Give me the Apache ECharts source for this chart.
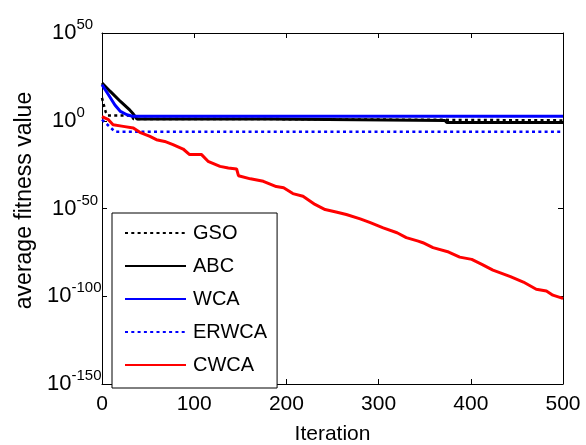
<!DOCTYPE html>
<html>
<head>
<meta charset="utf-8">
<script src="https://cdn.jsdelivr.net/npm/echarts@6/dist/echarts.min.js"></script>
<style>
html,body{margin:0;padding:0;background:#fff;}
#c{width:586px;height:445px;}
</style>
</head>
<body>
<div id="c"></div>
<script>
// Data (y values given as base-10 exponents, plotted on a log-decade axis)
const seriesNames = ['GSO', 'ABC', 'WCA', 'ERWCA', 'CWCA'];
const xTicks = [0, 100, 200, 300, 400, 500];
const yTickExponents = [-150, -100, -50, 0, 50];

const gsoIter = [0, 2, 4, 6, 32, 34, 161, 163, 500];
const gsoExp  = [13, 9, 5, 3, 3, 1.0, 1.0, 0.2, 0.2];

const abcIter = [0, 9, 20, 30, 34, 38, 181, 183, 372, 374, 500];
const abcExp  = [21.5, 16.7, 11, 6.2, 3.8, 1.0, 1.0, 0.2, 0.2, -1.0, -1.0];

const wcaIter = [0, 7, 14, 20, 27, 33, 500];
const wcaExp  = [20.5, 14.8, 9, 5.3, 3.4, 2.6, 2.6];

const erwcaIter = [0, 6, 14, 500];
const erwcaExp  = [0.6, -2.3, -6.2, -6.2];

const cwcaIter = [0, 7, 12, 23, 34, 41, 52, 59, 68, 77, 88, 95, 108, 115, 128, 137, 146, 148, 161, 175, 189, 197, 207, 218, 231, 242, 255, 265, 280, 291, 305, 320, 330, 343, 348, 359, 376, 388, 401, 412, 424, 443, 457, 471, 482, 489, 499, 500];
const cwcaExp  = [2.4, 0.6, -2.3, -3.2, -4.1, -6.6, -8.9, -10.8, -11.8, -13.6, -16.1, -19.3, -19.3, -23.1, -26, -26.9, -27.5, -31.3, -33.1, -34.5, -37.5, -38.2, -41.5, -43, -47.7, -50.6, -52.1, -53.4, -55.9, -58.1, -61, -63.8, -66.6, -68.6, -69.5, -72.3, -74.8, -77.7, -79, -81.8, -85.1, -88.8, -91.9, -96, -97, -99.4, -101.1, -101.3];

function pts(it, ex) { return it.map((x, i) => [x, ex[i]]); }

const FONT = "'Liberation Sans', Arial, sans-serif";
const chart = echarts.init(document.getElementById('c'), null, {renderer: 'canvas'});

// base "10" of each y tick label
function yBase(v) {
  const e = Math.round(v);
  return (e <= -100) ? '{w|10}' : '{b|10}';
}
// superscript exponent of each y tick label
function yExp(v) {
  const e = Math.round(v);
  return (e <= -100) ? '{w|' + e + '}' : '{b|' + e + '}';
}

const axisLineStyle = {show: true, onZero: false, lineStyle: {color: '#000', width: 1}};
const tick = {show: true, inside: true, length: 5, lineStyle: {color: '#000'}};
const yMin = yTickExponents[0], yMax = yTickExponents[yTickExponents.length - 1];

chart.setOption({
  animation: false,
  backgroundColor: '#fff',
  grid: {left: 102, right: 23, top: 33, bottom: 61, containLabel: false, outerBoundsMode: 'none'},
  legend: {
    orient: 'vertical',
    left: 112, top: 213,
    data: seriesNames,
    itemWidth: 61, itemHeight: 14, itemGap: 13,
    padding: [10, 10, 13, 12],
    borderColor: '#000', borderWidth: 1,
    backgroundColor: '#fff',
    itemStyle: {opacity: 0},
    textStyle: {fontFamily: FONT, fontSize: 20, color: '#000', lineHeight: 20, padding: [0, 0, 0, 2]},
    z: 10
  },
  xAxis: [{
    type: 'value', min: xTicks[0], max: xTicks[xTicks.length - 1], interval: 100,
    name: 'Iteration', nameLocation: 'middle', nameGap: 40,
    nameTextStyle: {fontFamily: FONT, fontSize: 21, color: '#000'},
    axisLine: axisLineStyle, axisTick: tick,
    axisLabel: {fontFamily: FONT, fontSize: 21, color: '#000', margin: 10},
    splitLine: {show: false}
  }, {
    type: 'value', min: xTicks[0], max: xTicks[xTicks.length - 1], interval: 100,
    position: 'top',
    axisLine: axisLineStyle, axisTick: tick,
    axisLabel: {show: false},
    splitLine: {show: false}
  }],
  yAxis: [{
    type: 'value', min: yMin, max: yMax, interval: 50,
    name: 'average fitness value', nameLocation: 'middle', nameGap: 52,
    nameTextStyle: {fontFamily: FONT, fontSize: 23, color: '#000', padding: [0, 0, 0, 16]},
    axisLine: axisLineStyle, axisTick: tick,
    axisLabel: {
      formatter: yBase, margin: 55, align: 'left',
      rich: {
        b: {fontFamily: FONT, fontSize: 22, color: '#000', padding: [0, 0, 0, 5]},
        w: {fontFamily: FONT, fontSize: 22, color: '#000', padding: [0, 0, 0, 0]}
      }
    },
    splitLine: {show: false}
  }, {
    type: 'value', min: yMin, max: yMax, interval: 50,
    position: 'left', offset: 0,
    axisLine: {show: false}, axisTick: {show: false},
    axisLabel: {
      formatter: yExp, margin: 30.5, align: 'left', verticalAlign: 'bottom', lineHeight: 16,
      rich: {
        b: {fontFamily: FONT, fontSize: 15, color: '#000', lineHeight: 16, padding: [0, 0, 0, 5]},
        w: {fontFamily: FONT, fontSize: 15, color: '#000', lineHeight: 16, padding: [0, 0, 0, 0]}
      }
    },
    splitLine: {show: false}
  }, {
    type: 'value', min: yMin, max: yMax, interval: 50,
    position: 'right',
    axisLine: axisLineStyle, axisTick: tick,
    axisLabel: {show: false},
    splitLine: {show: false}
  }],
  series: [
    {name: 'GSO', type: 'line', symbol: 'none', showSymbol: false, data: pts(gsoIter, gsoExp),
     lineStyle: {color: '#000', width: 2.5, type: [3, 3.3]}, itemStyle: {color: '#000'}},
    {name: 'ABC', type: 'line', symbol: 'none', showSymbol: false, data: pts(abcIter, abcExp),
     lineStyle: {color: '#000', width: 3}, itemStyle: {color: '#000'}},
    {name: 'WCA', type: 'line', symbol: 'none', showSymbol: false, data: pts(wcaIter, wcaExp),
     lineStyle: {color: '#0000ff', width: 3}, itemStyle: {color: '#0000ff'}},
    {name: 'ERWCA', type: 'line', symbol: 'none', showSymbol: false, data: pts(erwcaIter, erwcaExp),
     lineStyle: {color: '#0000ff', width: 2.5, type: [3, 3.3]}, itemStyle: {color: '#0000ff'}},
    {name: 'CWCA', type: 'line', symbol: 'none', showSymbol: false, data: pts(cwcaIter, cwcaExp),
     lineStyle: {color: '#ff0000', width: 3}, itemStyle: {color: '#ff0000'}}
  ]
});
</script>
</body>
</html>
